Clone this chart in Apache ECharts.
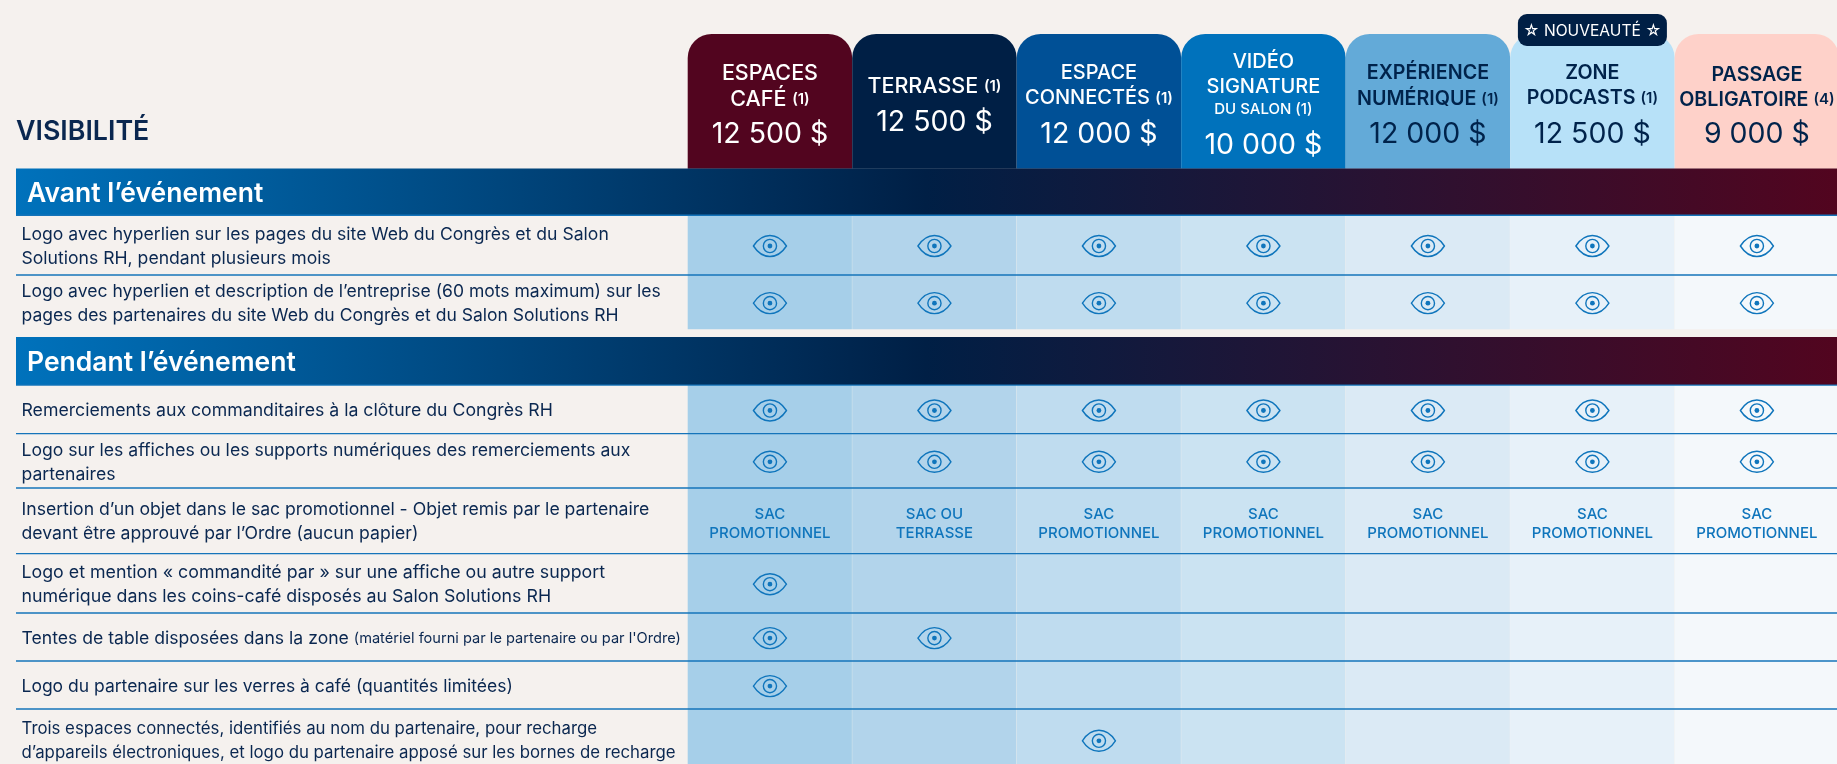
<!DOCTYPE html>
<html lang="fr">
<head>
<meta charset="utf-8">
<title>Visibilité</title>
<style>html,body{margin:0;padding:0;background:#f5f1ee}#c{width:1837px;height:764px}</style>
<script src="https://cdn.jsdelivr.net/npm/echarts@6/dist/echarts.min.js"></script>
</head>
<body>
<div id="c"></div>
<script>
// ---- data
const tableTitle = 'VISIBILITÉ';
const badgeText = '☆ NOUVEAUTÉ ☆';
const sponsorLines = [
  ['ESPACES', 'CAFÉ {n|(1)}'],
  ['TERRASSE {n|(1)}'],
  ['ESPACE', 'CONNECTÉS {n|(1)}'],
  ['VIDÉO', 'SIGNATURE', '{m|DU SALON (1)}'],
  ['EXPÉRIENCE', 'NUMÉRIQUE {n|(1)}'],
  ['ZONE', 'PODCASTS {n|(1)}'],
  ['PASSAGE', 'OBLIGATOIRE {n|(4)}']
];
const prices = [12500, 12500, 12000, 10000, 12000, 12500, 9000];
const sections = ['Avant l’événement', 'Pendant l’événement'];
const rowLabels = [
  ['Logo avec hyperlien sur les pages du site Web du Congrès et du Salon', 'Solutions RH, pendant plusieurs mois'],
  ['Logo avec hyperlien et description de l’entreprise (60 mots maximum) sur les', 'pages des partenaires du site Web du Congrès et du Salon Solutions RH'],
  ['Remerciements aux commanditaires à la clôture du Congrès RH'],
  ['Logo sur les affiches ou les supports numériques des remerciements aux', 'partenaires'],
  ['Insertion d’un objet dans le sac promotionnel - Objet remis par le partenaire', 'devant être approuvé par l’Ordre (aucun papier)'],
  ['Logo et mention « commandité par » sur une affiche ou autre support', 'numérique dans les coins-café disposés au Salon Solutions RH'],
  ['Tentes de table disposées dans la zone {s|(matériel fourni par le partenaire ou par l\'Ordre)}'],
  ['Logo du partenaire sur les verres à café (quantités limitées)'],
  ['Trois espaces connectés, identifiés au nom du partenaire, pour recharge', 'd’appareils électroniques, et logo du partenaire apposé sur les bornes de recharge']
];
// 1 = eye icon, 0 = empty, string = text in the cell
const SP = 'SAC\nPROMOTIONNEL';
const row1 = [1, 1, 1, 1, 1, 1, 1];
const row2 = [1, 1, 1, 1, 1, 1, 1];
const row3 = [1, 1, 1, 1, 1, 1, 1];
const row4 = [1, 1, 1, 1, 1, 1, 1];
const row5 = [SP, 'SAC OU\nTERRASSE', SP, SP, SP, SP, SP];
const row6 = [1, 0, 0, 0, 0, 0, 0];
const row7 = [1, 1, 0, 0, 0, 0, 0];
const row8 = [1, 0, 0, 0, 0, 0, 0];
const row9 = [0, 0, 1, 0, 0, 0, 0];
const rowCells = [row1, row2, row3, row4, row5, row6, row7, row8, row9];

// ---- layout (row edges are positions on the hidden y axis)
const rowEdges = [[215, 274], [274, 329.3], [385, 433], [433, 487.6], [487.6, 552.8], [552.8, 612.6], [612.6, 660.6], [660.6, 708.6], [708.6, 770]];
const bannerEdges = [[168.5, 215], [337, 385]];
const tabTop = 34;
const tabBottom = 168.7;
const cellBlocks = [[215, 329.3], [385, 770]];
const lineYs = [214.6, 274.35, 384.5, 433, 487.35, 553, 612.35, 660.35, 708.35];
const tabLineYs = [
  [73.7, 99.7], [86.7], [72.7, 98.2], [62.2, 86.7, 109.7], [72.7, 99.2], [72.7, 98.2], [74.7, 99.7]
];
const tabPriceYs = [134.5, 122, 134.5, 145.5, 134.5, 134.5, 134];
const tabFontSizes = [21.5, 21.5, 20, 20, 20, 20, 20];
const rowFontSizes = [17.6, 17.55, 17.7, 17.6, 17.62, 17.8, 17.6, 17.5, 16.8];
const tabColors = ['#52051f', '#001f45', '#005096', '#0072bc', '#63aad8', '#b7e1f8', '#fed1c9'];
const tabInk = ['#ffffff', '#ffffff', '#ffffff', '#ffffff', '#00234b', '#00234b', '#00234b'];
const cellColors = ['#a6cfe9', '#b2d4eb', '#bfdcef', '#cbe3f2', '#dbeaf5', '#e7f1f9', '#f4f8fb'];
const FONT = 'Inter';
const NAVY = '#0a2750';
const BLUE = '#0f75bc';
const LEFT = 16;
const TEXT_LEFT = 21.5;

const fmt = v => String(v).replace(/\B(?=(\d{3})+$)/g, ' ') + ' $';
const cats = prices.map((_, i) => i);

const chart = echarts.init(document.getElementById('c'), null, { renderer: 'canvas' });

const T = (x, y, text, o) => ({
  type: 'text', x, y,
  style: Object.assign({ text, fontFamily: FONT, verticalAlign: 'middle', align: 'left' }, o)
});

function renderCells(p, api) {
  const i = api.value(0);
  const w = api.size([1, 0])[0];
  const x = api.coord([i, 0])[0] - w / 2;
  return {
    type: 'group',
    children: cellBlocks.map(b => {
      const y0 = api.coord([i, b[0]])[1], y1 = api.coord([i, b[1]])[1];
      return { type: 'rect', shape: { x, y: y0, width: w - 0.3, height: y1 - y0 }, style: { fill: cellColors[i] } };
    })
  };
}
function renderTab(p, api) {
  const i = api.value(0);
  const w = api.size([1, 0])[0];
  const cx = api.coord([i, 0])[0];
  const y0 = api.coord([i, tabTop])[1], y1 = api.coord([i, tabBottom])[1];
  const ink = tabInk[i];
  const weight = ink === '#ffffff' ? 500 : 600;
  const rich = {
    n: { fontFamily: FONT, fontSize: 15, fontWeight: 600, fill: ink },
    m: { fontFamily: FONT, fontSize: 15, fontWeight: 500, fill: ink }
  };
  const children = [{
    type: 'rect', shape: { x: cx - w / 2, y: y0, width: w, height: y1 - y0, r: [24, 24, 0, 0] },
    style: { fill: tabColors[i] }
  }];
  sponsorLines[i].forEach((line, k) => {
    children.push(T(cx, tabLineYs[i][k], line, {
      align: 'center', fontSize: weight === 600 ? tabFontSizes[i] - 0.3 : tabFontSizes[i], fontWeight: weight, fill: ink, rich
    }));
  });
  children.push(T(cx, tabPriceYs[i], fmt(prices[i]), { align: 'center', fontSize: 28.5, fontWeight: 400, fill: ink }));
  return { type: 'group', children };
}
function renderBanner(p, api) {
  const i = api.value(0);
  const b = bannerEdges[i];
  const y0 = api.coord([0, b[0]])[1], y1 = api.coord([0, b[1]])[1];
  return {
    type: 'group',
    children: [
      {
        type: 'rect', shape: { x: LEFT, y: y0, width: api.getWidth() - LEFT, height: y1 - y0 },
        style: {
          fill: { type: 'linear', x: 0, y: 0, x2: 1, y2: 0, colorStops: [
            { offset: 0, color: '#0072bc' }, { offset: 0.5, color: '#001f45' }, { offset: 1, color: '#52051f' }
          ] }
        }
      },
      T(27, (y0 + y1) / 2 + 2, sections[i], { fontSize: 26.5, fontWeight: 600, fill: '#ffffff' })
    ]
  };
}
function renderRowLabel(p, api) {
  const i = api.value(0);
  const e = rowEdges[i];
  const mid = api.coord([0, (e[0] + e[1]) / 2])[1];
  const lines = rowLabels[i];
  const rich = { s: { fontFamily: FONT, fontSize: 14.6, fontWeight: 400, fill: NAVY } };
  return {
    type: 'group',
    children: lines.map((l, k) => T(TEXT_LEFT, mid + 2 + (k - (lines.length - 1) / 2) * 24, l,
      { fontSize: rowFontSizes[i], fontWeight: 400, fill: NAVY, rich }))
  };
}
function renderLine(p, api) {
  const y = api.coord([0, api.value(0)])[1];
  return { type: 'rect', shape: { x: LEFT, y, width: api.getWidth() - LEFT, height: 1.3 }, style: { fill: '#1574ba' } };
}
const EYE = 'M0,10.5 C4.5,3.5 10.5,0 16.5,0 C22.5,0 28.5,3.5 33,10.5 C28.5,17.5 22.5,21 16.5,21 C10.5,21 4.5,17.5 0,10.5 Z';
function renderEye(p, api) {
  const c = api.coord([api.value(0), 0]);
  const e = rowEdges[api.value(1)];
  const cx = c[0], cy = api.coord([0, (e[0] + e[1]) / 2])[1] + 1.5;
  return {
    type: 'group',
    children: [
      { type: 'path', shape: { pathData: EYE, x: cx - 16.5, y: cy - 10.5, width: 33, height: 21, layout: 'cover' },
        style: { fill: 'none', stroke: BLUE, lineWidth: 1.4 } },
      { type: 'circle', shape: { cx, cy, r: 6.6 }, style: { fill: 'none', stroke: BLUE, lineWidth: 1.4 } },
      { type: 'circle', shape: { cx, cy, r: 2.4 }, style: { fill: BLUE } }
    ]
  };
}
function renderCellText(p, api) {
  const i = api.value(0), r = api.value(1);
  const e = rowEdges[r];
  const cx = api.coord([i, 0])[0], cy = api.coord([0, (e[0] + e[1]) / 2])[1] + 3.5;
  const lines = rowCells[r][i].split('\n');
  return {
    type: 'group',
    children: lines.map((l, k) => T(cx, cy + (k - (lines.length - 1) / 2) * 19, l,
      { align: 'center', fontSize: 15, fontWeight: 500, fill: BLUE }))
  };
}
function renderBadge(p, api) {
  const cx = api.coord([api.value(0), 0])[0];
  const y0 = api.coord([0, 14])[1], y1 = api.coord([0, 46])[1];
  return {
    type: 'group',
    children: [
      { type: 'rect', shape: { x: cx - 74.5, y: y0, width: 149, height: y1 - y0, r: 9 }, style: { fill: '#001f45' } },
      T(cx, (y0 + y1) / 2 + 1, badgeText, { align: 'center', fontSize: 15.6, fontWeight: 400, fill: '#ffffff' })
    ]
  };
}

const eyeData = [], textData = [];
rowCells.forEach((cells, r) => cells.forEach((v, i) => {
  if (v === 1) eyeData.push([i, r]);
  else if (typeof v === 'string') textData.push([i, r]);
}));

const custom = (name, data, renderItem, z) => ({
  name, type: 'custom', data, renderItem, z, silent: true, clip: false,
  encode: { x: 0, y: -1 }, animation: false
});

chart.setOption({
  animation: false,
  backgroundColor: '#f5f1ee',
  tooltip: { show: false },
  grid: { left: 687.7, top: 0, right: 0, bottom: 0, containLabel: false },
  xAxis: { type: 'value', min: -0.5, max: 6.487, show: false },
  yAxis: { type: 'value', min: 0, max: 764, inverse: true, show: false },
  graphic: [{
    type: 'text', left: 16, top: 118,
    style: { text: tableTitle, fontFamily: FONT, fontSize: 26.8, fontWeight: 600, fill: NAVY }
  }],
  series: [
    custom('cells', cats.map(i => [i]), renderCells, 1),
    custom('tabs', cats.map(i => [i]), renderTab, 2),
    custom('banners', sections.map((s, i) => [i]), renderBanner, 3),
    custom('lines', lineYs.map(y => [y]), renderLine, 4),
    custom('labels', rowLabels.map((l, i) => [i]), renderRowLabel, 5),
    custom('eyes', eyeData, renderEye, 6),
    custom('cellText', textData, renderCellText, 6),
    custom('badge', [[5]], renderBadge, 7)
  ]
});
</script>
</body>
</html>
